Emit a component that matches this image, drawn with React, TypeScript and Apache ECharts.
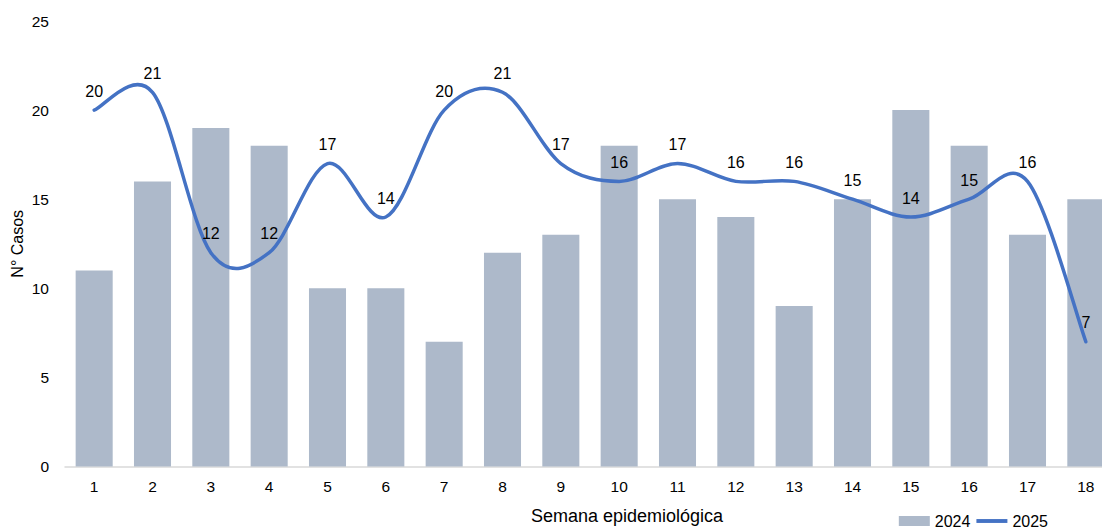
import React, { useEffect, useRef } from "react";
import * as echarts from "echarts";

const weeks = ["1","2","3","4","5","6","7","8","9","10","11","12","13","14","15","16","17","18"];
const cases2024 = [11, 16, 19, 18, 10, 10, 7, 12, 13, 18, 15, 14, 9, 15, 20, 18, 13, 15];
const cases2025 = [20, 21, 12, 12, 17, 14, 20, 21, 17, 16, 17, 16, 16, 15, 14, 15, 16, 7];

const FONT = "'Liberation Sans', Arial, sans-serif";
const LINE_COLOR = "#4472C4";
const BAR_COLOR = "#ADB9CA";

export default function App() {
  const ref = useRef<HTMLDivElement>(null);
  useEffect(() => {
    if (!ref.current) return;
    const chart = echarts.init(ref.current, undefined, { renderer: "svg" });

    const renderSmooth = (params: any, api: any) => {
      if (params.dataIndex !== 0) return null;
      const pts = cases2025.map((v, i) => api.coord([i, v]));
      const n = pts.length;
      const P = (k: number) => pts[Math.max(0, Math.min(n - 1, k))];
      let d = `M${pts[0][0]},${pts[0][1]}`;
      for (let i = 0; i < n - 1; i++) {
        const p0 = P(i - 1), p1 = P(i), p2 = P(i + 1), p3 = P(i + 2);
        const c1x = p1[0] + (p2[0] - p0[0]) / 6;
        const c1y = p1[1] + (p2[1] - p0[1]) / 6;
        const c2x = p2[0] - (p3[0] - p1[0]) / 6;
        const c2y = p2[1] - (p3[1] - p1[1]) / 6;
        d += ` C${c1x},${c1y} ${c2x},${c2y} ${p2[0]},${p2[1]}`;
      }
      return {
        type: "path",
        shape: { pathData: d },
        style: { stroke: LINE_COLOR, lineWidth: 3.5, fill: "none", lineCap: "round", lineJoin: "round" },
      };
    };

    chart.setOption({
      animation: false,
      textStyle: { fontFamily: FONT },
      grid: {
        left: 65,
        right: -13,
        top: 21,
        bottom: 62.5,
        containLabel: false,
        outerBoundsMode: "none",
      },
      legend: {
        right: 54,
        bottom: 0,
        padding: 0,
        itemWidth: 31,
        itemHeight: 10,
        itemGap: 6,
        textStyle: { fontFamily: FONT, fontSize: 16, color: "#000" },
        data: [
          { name: "2024", icon: "rect" },
          { name: "2025", icon: "path://M0,0L32,0L32,4L0,4Z" },
        ],
      },
      xAxis: {
        type: "category",
        data: weeks,
        name: "Semana epidemiológica",
        nameLocation: "middle",
        nameGap: 40,
        nameMoveOverlap: false,
        nameTextStyle: { fontFamily: FONT, fontSize: 18, color: "#000", padding: [0, 0, 0, 74] },
        axisLine: { lineStyle: { color: "#D9D9D9", width: 1.5 } },
        axisTick: { show: false },
        axisLabel: { color: "#000", fontSize: 15.5, fontFamily: FONT, margin: 12 },
      },
      yAxis: {
        type: "value",
        min: 0,
        max: 25,
        interval: 5,
        name: "N° Casos",
        nameLocation: "middle",
        nameGap: 40,
        nameMoveOverlap: false,
        nameRotate: 90,
        nameTextStyle: { fontFamily: FONT, fontSize: 16, color: "#000" },
        axisLine: { show: false },
        axisTick: { show: false },
        splitLine: { show: false },
        axisLabel: { color: "#000", fontSize: 15.5, fontFamily: FONT, margin: 16 },
      },
      series: [
        {
          name: "2024",
          type: "bar",
          data: cases2024,
          barCategoryGap: "36.5%",
          itemStyle: { color: BAR_COLOR },
        },
        {
          name: "2025",
          type: "custom",
          data: cases2025.map((v, i) => [i, v]),
          encode: { x: 0, y: 1 },
          renderItem: renderSmooth,
          clip: false,
          itemStyle: { color: LINE_COLOR },
          z: 3,
        },
        {
          name: "2025-labels",
          type: "line",
          data: cases2025,
          symbol: "circle",
          symbolSize: 0.01,
          lineStyle: { opacity: 0, width: 0 },
          itemStyle: { color: "rgba(0,0,0,0)" },
          z: 4,
          label: {
            show: true,
            position: "top",
            distance: 11,
            color: "#000",
            fontSize: 16,
            fontFamily: FONT,
          },
        },
      ],
    });
    return () => chart.dispose();
  }, []);
  return <div ref={ref} style={{ width: 1102, height: 529, position: "absolute", left: 0, top: 0 }} />;
}
